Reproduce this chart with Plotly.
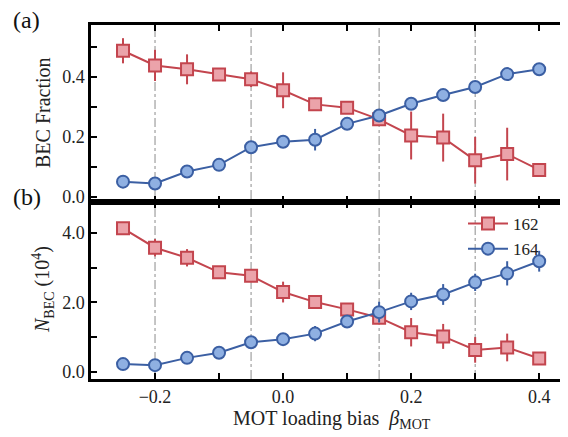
import plotly.graph_objects as go
from plotly.subplots import make_subplots

# ---------------- data ----------------
beta = [-0.25, -0.20, -0.15, -0.10, -0.05, 0.00, 0.05, 0.10, 0.15, 0.20, 0.25, 0.30, 0.35, 0.40]

frac_162 = [0.487, 0.438, 0.425, 0.408, 0.392, 0.355, 0.308, 0.297, 0.258, 0.204, 0.197, 0.121, 0.142, 0.089]
frac_162_err = [0.042, 0.052, 0.050, 0.008, 0.026, 0.060, 0.022, 0.008, 0.010, 0.080, 0.080, 0.078, 0.088, 0.008]
frac_164 = [0.050, 0.044, 0.084, 0.106, 0.165, 0.183, 0.190, 0.243, 0.271, 0.310, 0.339, 0.366, 0.409, 0.425]
frac_164_err = [0.006, 0.008, 0.008, 0.008, 0.008, 0.010, 0.036, 0.008, 0.020, 0.010, 0.012, 0.010, 0.020, 0.010]

nbec_162 = [4.14, 3.58, 3.29, 2.87, 2.77, 2.30, 2.01, 1.80, 1.56, 1.14, 1.02, 0.63, 0.70, 0.38]
nbec_162_err = [0.15, 0.25, 0.25, 0.08, 0.15, 0.30, 0.08, 0.06, 0.10, 0.41, 0.36, 0.37, 0.40, 0.05]
nbec_164 = [0.22, 0.19, 0.40, 0.55, 0.85, 0.94, 1.10, 1.45, 1.72, 2.03, 2.23, 2.58, 2.84, 3.19]
nbec_164_err = [0.05, 0.05, 0.06, 0.06, 0.08, 0.08, 0.22, 0.08, 0.30, 0.25, 0.30, 0.25, 0.35, 0.30]

guide_x = [-0.20, -0.05, 0.15, 0.30]

x_tickvals = [-0.3, -0.2, -0.1, 0.0, 0.1, 0.2, 0.3, 0.4]
x_ticktext = ["", "\u22120.2", "", "0.0", "", "0.2", "", "0.4"]
frac_tickvals = [0.0, 0.1, 0.2, 0.3, 0.4, 0.5]
frac_ticktext = ["0.0", "", "0.2", "", "0.4", ""]
n_tickvals = [0.0, 1.0, 2.0, 3.0, 4.0]
n_ticktext = ["0.0", "", "2.0", "", "4.0"]

# ---------------- style ----------------
RED_LINE = "#c3454e"
RED_FILL = "#eba3aa"
BLUE_LINE = "#3b5fa3"
BLUE_FILL = "#8fb0e2"
FONT = "Liberation Serif, Times New Roman, serif"

# page body has an 8px margin; figure is sized so it ends at the window edge
OFF = 8
W, H = 568 - OFF, 437 - OFF
ML, MR, MT, MB = 91 - OFF, 0, 25 - OFF, 437 - 379
pw, ph = W - ML - MR, H - MT - MB


def px2paper(sx, sy):
    fx, fy = sx - OFF, sy - OFF
    return (fx - ML) / pw, (H - MB - fy) / ph


fig = make_subplots(rows=2, cols=1, shared_xaxes=True, vertical_spacing=0)


def add_series(y, err, row, name, line, fill, symbol, show):
    fig.add_trace(go.Scatter(
        x=beta, y=y, mode="lines+markers", name=name, showlegend=show,
        line=dict(color=line, width=2),
        marker=dict(symbol=symbol, size=12, color=fill, line=dict(color=line, width=2)),
        error_y=dict(type="data", array=err, visible=True, color=line, thickness=2, width=0),
    ), row=row, col=1)


add_series(frac_162, frac_162_err, 1, "162", RED_LINE, RED_FILL, "square", False)
add_series(frac_164, frac_164_err, 1, "164", BLUE_LINE, BLUE_FILL, "circle", False)
add_series(nbec_162, nbec_162_err, 2, "162", RED_LINE, RED_FILL, "square", True)
add_series(nbec_164, nbec_164_err, 2, "164", BLUE_LINE, BLUE_FILL, "circle", True)

shapes = []
for gx in guide_x:
    shapes.append(dict(type="line", xref="x", yref="paper", x0=gx, x1=gx, y0=0, y1=1,
                       line=dict(color="#8c8c8c", width=1, dash="dashdot"), layer="below"))

tickfont = dict(family=FONT, size=18, color="#222")
axis_common = dict(ticks="inside", ticklen=6, tickwidth=2, tickcolor="black",
                   tickfont=tickfont, showgrid=False, zeroline=False)

fig.update_xaxes(range=[-0.30, 0.445], tickvals=x_tickvals, ticktext=x_ticktext,
                 showline=True, linewidth=2.5, linecolor="black", mirror="ticks", **axis_common)
fig.update_xaxes(showticklabels=False, row=1, col=1)
fig.update_yaxes(showline=True, linewidth=2.5, linecolor="black", mirror=False, **axis_common)
fig.update_yaxes(range=[-0.018, 0.573], tickvals=frac_tickvals, ticktext=frac_ticktext, row=1, col=1)
fig.update_yaxes(range=[-0.21, 4.90], tickvals=n_tickvals, ticktext=n_ticktext, row=2, col=1)

# right-hand tick marks (spine lies just outside the picture)
right_common = dict(side="right", showline=False, showticklabels=False, ticks="inside",
                    ticklen=6, tickwidth=2, tickcolor="black", showgrid=False, zeroline=False)
fig.update_layout(
    yaxis3=dict(overlaying="y", anchor="x", range=[-0.018, 0.573], tickvals=frac_tickvals, **right_common),
    yaxis4=dict(overlaying="y2", anchor="x2", range=[-0.21, 4.90], tickvals=n_tickvals, **right_common),
)

ann = []
for txt, sx, sy in [("(a)", 26.5, 20), ("(b)", 26.5, 197)]:
    ax_, ay_ = px2paper(sx, sy)
    ann.append(dict(text=txt, x=ax_, y=ay_, xref="paper", yref="paper", showarrow=False,
                    xanchor="center", yanchor="middle",
                    font=dict(family=FONT, size=24, color="#111")))
ax_, ay_ = px2paper(43, 113)
ann.append(dict(text="BEC Fraction", x=ax_, y=ay_, xref="paper", yref="paper", showarrow=False,
                textangle=-90, xanchor="center", yanchor="middle",
                font=dict(family=FONT, size=20, color="#222")))
ax_, ay_ = px2paper(43, 290)
ann.append(dict(text="<i>N</i><sub>BEC</sub> (10<sup>4</sup>)", x=ax_, y=ay_, xref="paper", yref="paper",
                showarrow=False, textangle=-90, xanchor="center", yanchor="middle",
                font=dict(family=FONT, size=20, color="#222")))
ax_, ay_ = px2paper(332, 419)
ann.append(dict(text="MOT loading bias  <i>\u03b2</i><sub>MOT</sub>", x=ax_, y=ay_, xref="paper", yref="paper",
                showarrow=False, xanchor="center", yanchor="middle",
                font=dict(family=FONT, size=20, color="#222")))

lx, ly = px2paper(463, 206)
fig.update_layout(
    width=W, height=H,
    margin=dict(l=ML, r=MR, t=MT, b=MB),
    font=dict(family=FONT, color="#222"),
    paper_bgcolor="white", plot_bgcolor="white",
    shapes=shapes, annotations=ann,
    showlegend=True,
    legend=dict(x=lx, y=ly, xanchor="left", yanchor="top", bgcolor="rgba(0,0,0,0)",
                font=dict(family=FONT, size=17, color="#222"), itemwidth=40,
                tracegroupgap=0),
)

fig.write_html("out.html")
